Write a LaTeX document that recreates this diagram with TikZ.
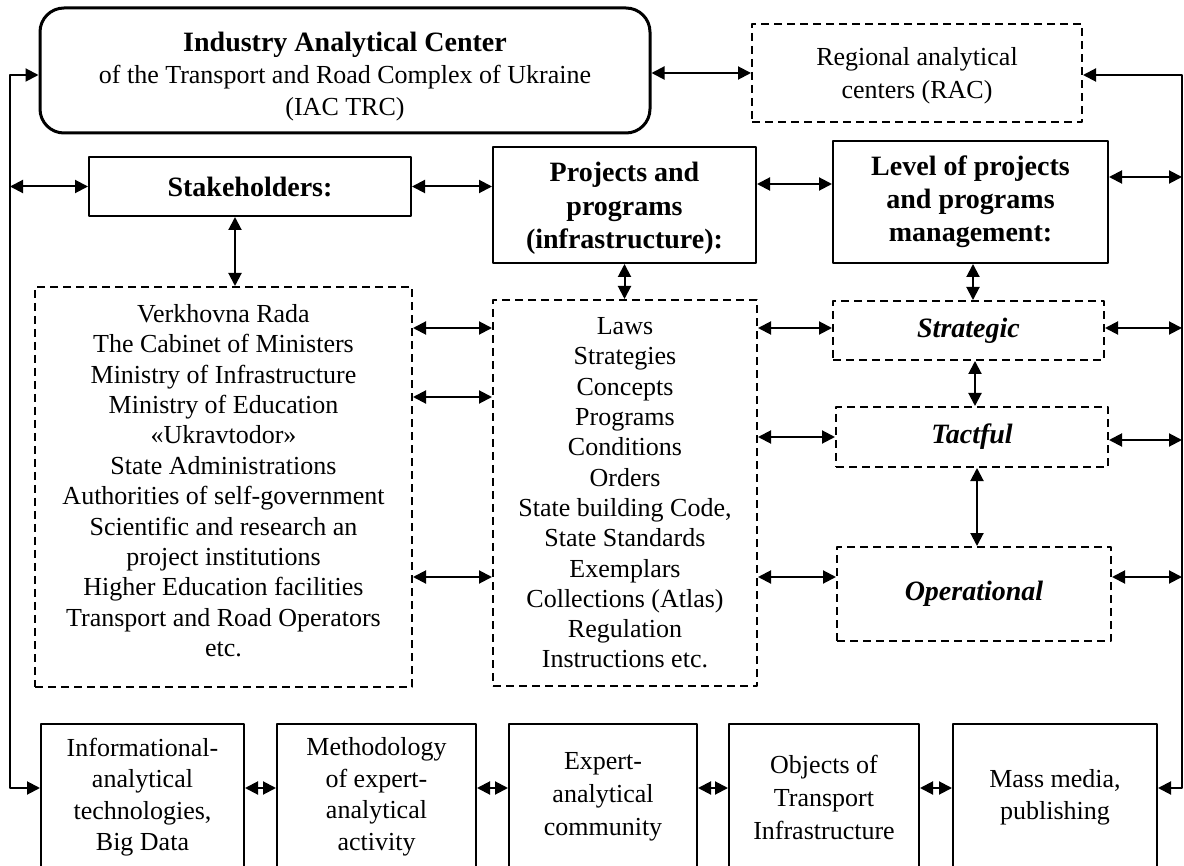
\documentclass[tikz,border=0pt]{standalone}
\usepackage{fontspec}
\setmainfont{Liberation Serif}
\usetikzlibrary{arrows.meta}

\begin{document}
\begin{tikzpicture}[x=0.5pt, y=-0.5pt, >={Triangle[length=6.5pt,width=6.5pt]},
    line width=1pt, line join=round,
    box/.style={draw, align=center, inner sep=0pt, font=\fontsize{13}{15.5}\selectfont},
    head/.style={box, font=\fontsize{14}{16.6}\selectfont\bfseries},
    dbox/.style={box, dash pattern=on 4pt off 2.5pt},
    lvlbox/.style={dbox, font=\fontsize{14}{16.5}\selectfont\bfseries\itshape}]
  \useasboundingbox (0,0) rectangle (1184,866);

  % Top row
  \node[box, minimum width=305pt, minimum height=62.5pt, rounded corners=12pt, line width=1.5pt,
    font=\fontsize{13}{16}\selectfont] (iac) at (345,70.5)
    {\rule{0pt}{15.8pt}{\fontsize{14}{16}\selectfont\bfseries Industry Analytical Center}\\
     of the Transport and Road Complex of Ukraine\\ (IAC TRC)};
  \node[dbox, minimum width=165pt, minimum height=49pt, font=\fontsize{13}{16.5}\selectfont] (rac) at (917,73)
    {\rule{0pt}{12pt}Regional analytical\\ centers (RAC)};

  % Headers
  \node[head, minimum width=161pt, minimum height=29.5pt] (stk) at (250,186.5) {Stakeholders:};
  \node[head, minimum width=131.5pt, minimum height=58pt] (prj) at (624.5,205)
    {\rule{0pt}{13pt}Projects and\\ programs\\ (infrastructure):};
  \node[head, minimum width=137.5pt, minimum height=61pt] (lvl) at (970.5,202)
    {Level of projects\\ and programs\\ management:};

  % Lists
  \node[dbox, minimum width=188.5pt, minimum height=200pt, font=\fontsize{13}{15.2}\selectfont] (gov) at (223.5,487)
    {Verkhovna Rada\\ The Cabinet of Ministers\\ Ministry of Infrastructure\\ Ministry of Education\\
     «Ukravtodor»\\ State Administrations\\ Authorities of self-government\\ Scientific and research an\\
     project institutions\\ Higher Education facilities\\ Transport and Road Operators\\
     etc.\rule[-6.5pt]{0pt}{6.5pt}};
  \node[dbox, minimum width=132pt, minimum height=193pt, font=\fontsize{13}{15.15}\selectfont] (doc) at (625,493)
    {Laws\\ Strategies\\ Concepts\\ Programs\\ Conditions\\ Orders\\ State building Code,\\
     State Standards\\ Exemplars\\ Collections (Atlas)\\ Regulation\\ Instructions etc.};

  % Levels
  \node[lvlbox, minimum width=135.5pt, minimum height=29.5pt] (str) at (968.5,330.5) {Strategic};
  \node[lvlbox, minimum width=136pt, minimum height=30pt] (tac) at (972,437) {Tactful};
  \node[lvlbox, minimum width=137pt, minimum height=47pt] (opr) at (974,594) {Operational};

  % Bottom row
  \node[box, minimum width=101.5pt, minimum height=73pt, font=\fontsize{13}{15.75}\selectfont] (b1) at (142.5,797)
    {Informational-\\ analytical\\ technologies,\\ Big Data};
  \node[box, minimum width=99.5pt, minimum height=73pt, font=\fontsize{13}{15.75}\selectfont] (b2) at (376.5,797)
    {Methodology\\ of expert-\\ analytical\\ activity};
  \node[box, minimum width=94pt, minimum height=73pt, font=\fontsize{13}{16.5}\selectfont] (b3) at (603,797)
    {Expert-\\ analytical\\ community};
  \node[box, minimum width=95pt, minimum height=73pt, font=\fontsize{13}{16.5}\selectfont] (b4) at (824,797)
    {Objects of\\ Transport\\ Infrastructure};
  \node[box, minimum width=102pt, minimum height=73pt, font=\fontsize{13}{16}\selectfont] (b5) at (1055,797)
    {Mass media,\\ publishing};

  % Side lines
  \coordinate (lt) at (10,75);
  \coordinate (lb) at (10,788);
  \coordinate (rt) at (1182,75);
  \coordinate (rb) at (1182,788);
  \draw[<->] (iac.west |- lt) -- (lt) -- (lb) -- (b1.west |- lb);
  \draw[<->] (rac.east |- rt) -- (rt) -- (rb) -- (b5.east |- rb);

  % Arrows
  \draw[<->] (iac.east |- rac.west) -- (rac.west);
  \draw[<->] (lt |- stk.west) -- (stk.west);
  \draw[<->] (stk.east) -- (prj.west |- stk.east);
  \draw[<->] (prj.east |- 0,184) -- (lvl.west |- 0,184);
  \draw[<->] (lvl.east |- 0,177) -- (rt |- 0,177);
  \draw[<->] (stk.south -| 235,0) -- (gov.north -| 235,0);
  \draw[<->] (prj.south) -- (prj.south |- doc.north);
  \draw[<->] (lvl.south -| 973,0) -- (str.north -| 973,0);
  \draw[<->] (str.south -| 975,0) -- (tac.north -| 975,0);
  \draw[<->] (tac.south -| 977,0) -- (opr.north -| 977,0);
  \foreach \y in {328,397,577}
    \draw[<->] (gov.east |- 0,\y) -- (doc.west |- 0,\y);
  \draw[<->] (doc.east |- 0,328) -- (str.west |- 0,328);
  \draw[<->] (doc.east |- 0,437) -- (tac.west |- 0,437);
  \draw[<->] (doc.east |- 0,577) -- (opr.west |- 0,577);
  \draw[<->] (str.east |- 0,328) -- (rt |- 0,328);
  \draw[<->] (tac.east |- 0,440) -- (rt |- 0,440);
  \draw[<->] (opr.east |- 0,577) -- (rt |- 0,577);
  \foreach \a/\b in {b1/b2,b2/b3,b3/b4,b4/b5}
    \draw[<->] (\a.east |- lb) -- (\b.west |- lb);
\end{tikzpicture}
\end{document}
